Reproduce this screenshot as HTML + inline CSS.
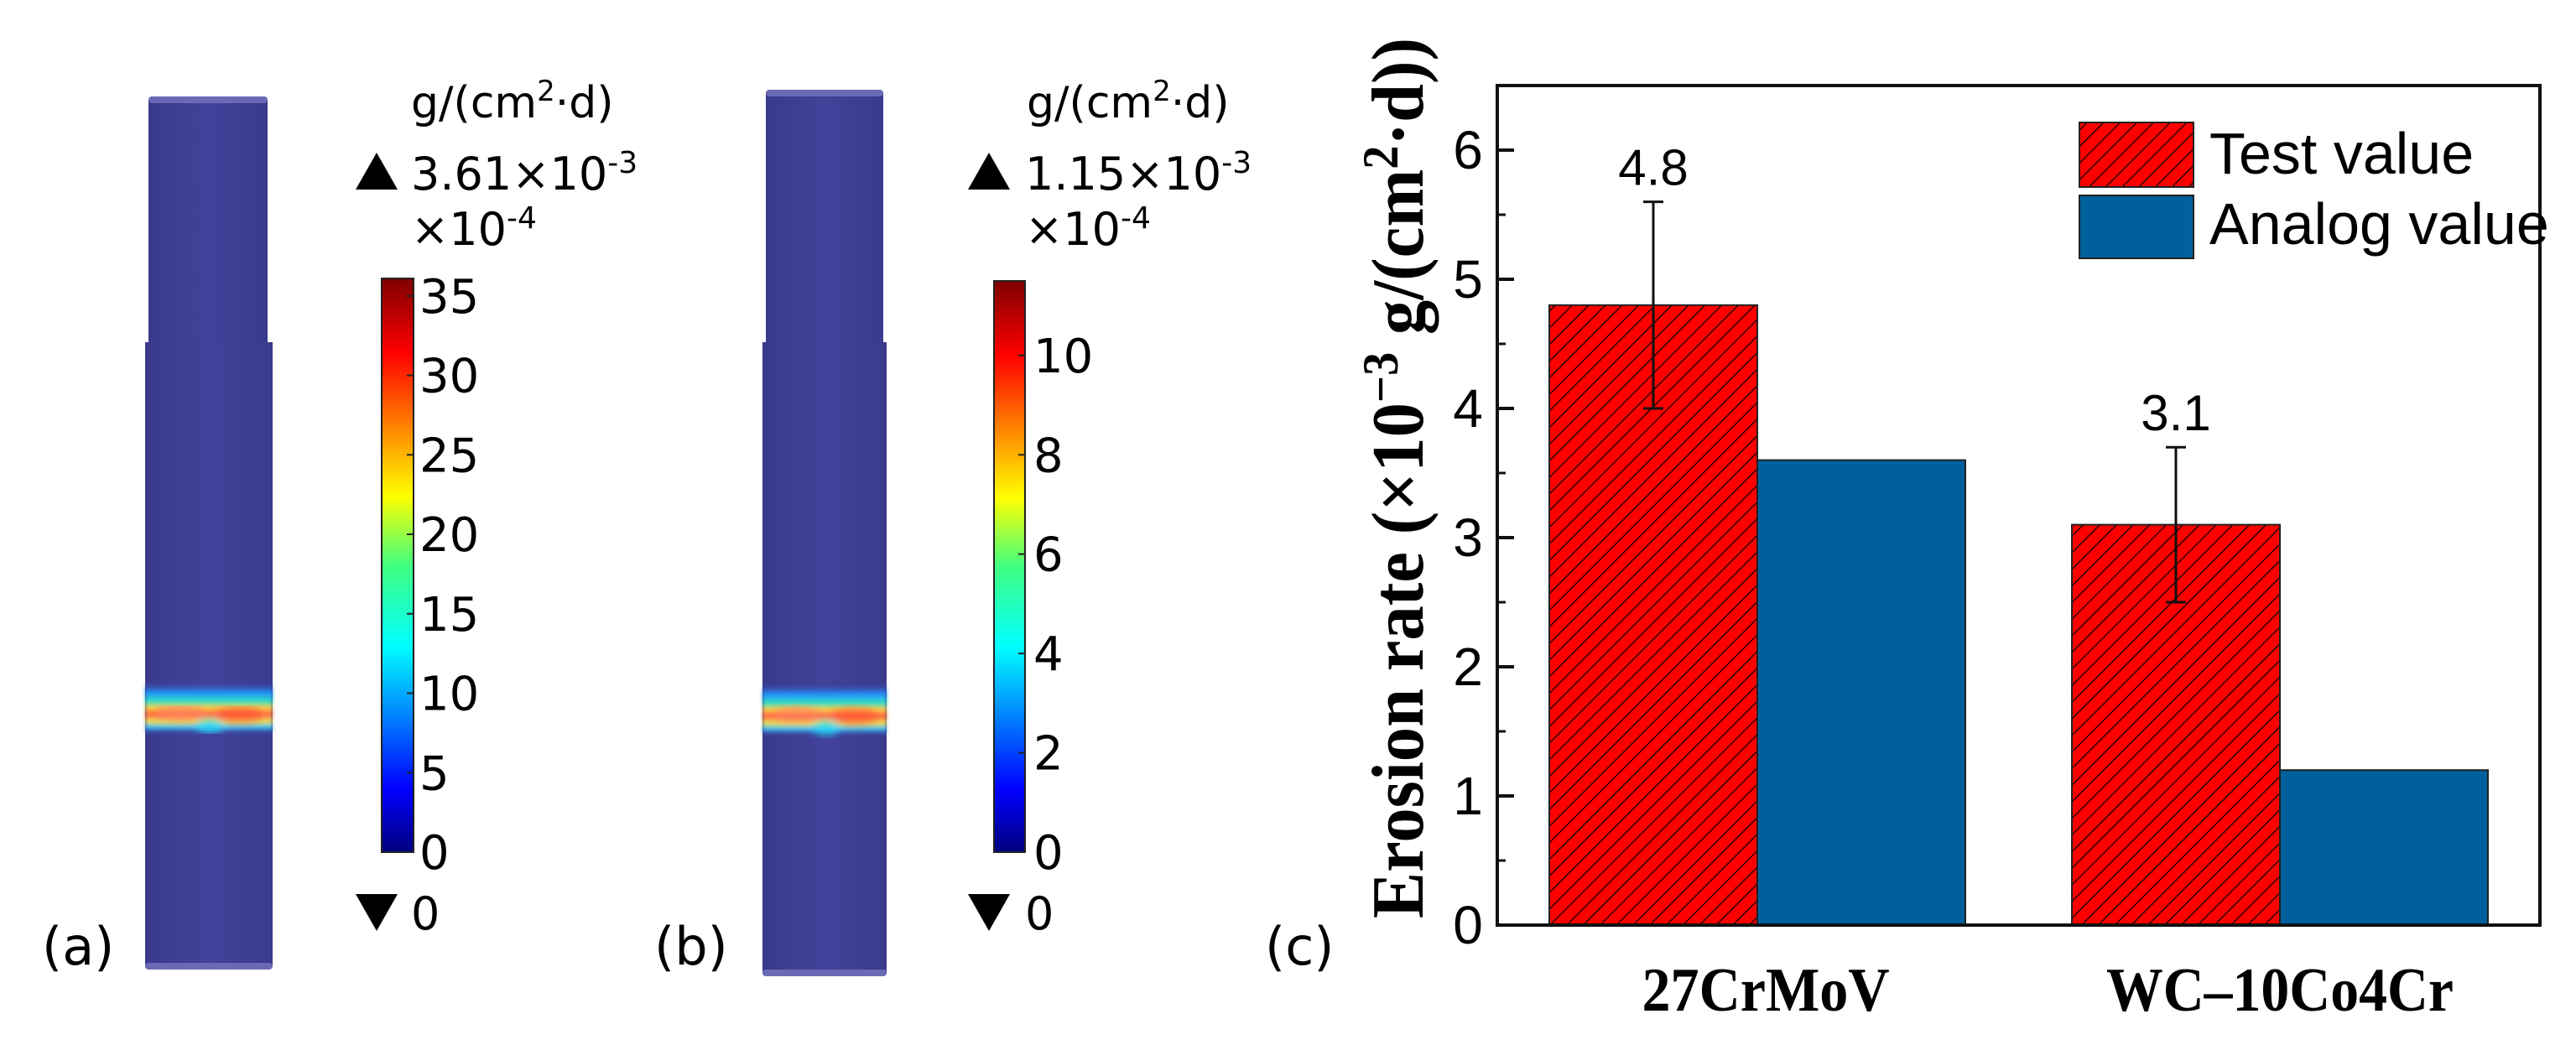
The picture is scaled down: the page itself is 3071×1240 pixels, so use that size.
<!DOCTYPE html>
<html><head><meta charset="utf-8"><style>
html,body{margin:0;padding:0;background:#fff;}
svg{display:block;}
</style></head><body>
<svg id="fig" width="3071" height="1240" viewBox="0 0 3071 1240" xmlns="http://www.w3.org/2000/svg">
<defs>
<linearGradient id="jet" x1="0" y1="1" x2="0" y2="0">
<stop offset="0" stop-color="#00007f"/><stop offset="0.11" stop-color="#0000ff"/><stop offset="0.36" stop-color="#00ffff"/><stop offset="0.5" stop-color="#40ff80"/><stop offset="0.62" stop-color="#ffff00"/><stop offset="0.87" stop-color="#ff0000"/><stop offset="1" stop-color="#7f0000"/>
</linearGradient>
<linearGradient id="cyl" x1="0" y1="0" x2="1" y2="0">
<stop offset="0" stop-color="#3a3a8c"/><stop offset="0.5" stop-color="#42429a"/><stop offset="1" stop-color="#3a3a8e"/>
</linearGradient>
<linearGradient id="band" x1="0" y1="0" x2="0" y2="1">
<stop offset="0" stop-color="#42429a" stop-opacity="0"/><stop offset="0.2" stop-color="#2090ff"/><stop offset="0.38" stop-color="#30e0c0"/><stop offset="0.5" stop-color="#ffd040"/><stop offset="0.62" stop-color="#ff6040"/><stop offset="0.76" stop-color="#f0e050"/><stop offset="0.88" stop-color="#30c0ff"/><stop offset="1" stop-color="#42429a" stop-opacity="0"/>
</linearGradient>
<filter id="blur"><feGaussianBlur stdDeviation="2"/></filter>
<filter id="blur2"><feGaussianBlur stdDeviation="5"/></filter>
<pattern id="hatch" width="14" height="14" patternUnits="userSpaceOnUse" patternTransform="rotate(45)">
<rect width="14" height="14" fill="#ff0000"/><line x1="0" y1="0" x2="0" y2="14" stroke="#000" stroke-width="2.5"/>
</pattern>
</defs>

<!-- panel a -->
<g>
<rect x="177" y="119" width="142" height="292" fill="url(#cyl)"/>
<rect x="173" y="408" width="152" height="745" fill="url(#cyl)"/>
<rect x="177" y="115" width="142" height="8" rx="4" fill="#6a6ab4"/>
<rect x="173" y="1148" width="152" height="8" rx="4" fill="#6a6ab4"/>
<rect x="173" y="813" width="152" height="62" fill="url(#band)" filter="url(#blur)"/>
<g filter="url(#blur2)" clip-path="inset(0)"><ellipse cx="215" cy="850" rx="30" ry="9" fill="#ff8060" opacity="0.7"/><ellipse cx="285" cy="852" rx="28" ry="9" fill="#ff5030" opacity="0.7"/><ellipse cx="250" cy="866" rx="16" ry="9" fill="#20e0ff" opacity="0.7"/></g>
<rect x="455" y="332" width="38" height="684" fill="url(#jet)" stroke="#222" stroke-width="2"/>
<g id="ticksA" font-family="DejaVu Sans, sans-serif" font-size="56" fill="#000"></g>
<text x="490" y="140" font-family="DejaVu Sans, sans-serif" font-size="52">g/(cm<tspan dy="-20" font-size="34">2</tspan><tspan dy="20">·d)</tspan></text>
<polygon points="424,226 449,182 474,226" fill="#000"/>
<text x="490" y="226" font-family="DejaVu Sans, sans-serif" font-size="54">3.61×10<tspan dy="-20" font-size="36">-3</tspan></text>
<text x="490" y="292" font-family="DejaVu Sans, sans-serif" font-size="54">×10<tspan dy="-20" font-size="36">-4</tspan></text>
<polygon points="424,1066 474,1066 449,1110" fill="#000"/>
<text x="490" y="1108" font-family="DejaVu Sans, sans-serif" font-size="54">0</text>
<text x="50" y="1150" font-family="DejaVu Sans, sans-serif" font-size="62">(a)</text>
</g>

<!-- panel b -->
<g>
<rect x="913" y="111" width="140" height="300" fill="url(#cyl)"/>
<rect x="909" y="408" width="148" height="753" fill="url(#cyl)"/>
<rect x="913" y="107" width="140" height="8" rx="4" fill="#6a6ab4"/>
<rect x="909" y="1156" width="148" height="8" rx="4" fill="#6a6ab4"/>
<rect x="909" y="815" width="148" height="62" fill="url(#band)" filter="url(#blur)"/>
<g filter="url(#blur2)"><ellipse cx="950" cy="852" rx="28" ry="9" fill="#ff8060" opacity="0.7"/><ellipse cx="1018" cy="854" rx="28" ry="9" fill="#ff5030" opacity="0.7"/><ellipse cx="985" cy="868" rx="16" ry="9" fill="#20e0ff" opacity="0.7"/></g>
<rect x="1185" y="335" width="37" height="681" fill="url(#jet)" stroke="#222" stroke-width="2"/>
<g id="ticksB" font-family="DejaVu Sans, sans-serif" font-size="56" fill="#000"></g>
<text x="1224" y="140" font-family="DejaVu Sans, sans-serif" font-size="52">g/(cm<tspan dy="-20" font-size="34">2</tspan><tspan dy="20">·d)</tspan></text>
<polygon points="1154,226 1179,182 1204,226" fill="#000"/>
<text x="1222" y="226" font-family="DejaVu Sans, sans-serif" font-size="54">1.15×10<tspan dy="-20" font-size="36">-3</tspan></text>
<text x="1222" y="292" font-family="DejaVu Sans, sans-serif" font-size="54">×10<tspan dy="-20" font-size="36">-4</tspan></text>
<polygon points="1154,1066 1204,1066 1179,1110" fill="#000"/>
<text x="1222" y="1108" font-family="DejaVu Sans, sans-serif" font-size="54">0</text>
<text x="780" y="1150" font-family="DejaVu Sans, sans-serif" font-size="62">(b)</text>
</g>

<!-- panel c -->
<g id="chart">
<text x="1508" y="1150" font-family="DejaVu Sans, sans-serif" font-size="62">(c)</text>
<text transform="translate(1696,570) rotate(-90)" text-anchor="middle" font-family="Liberation Serif, serif" font-weight="bold" font-size="88" textLength="1050" lengthAdjust="spacingAndGlyphs">Erosion rate (×10<tspan dy="-30" font-size="60">−3</tspan><tspan dy="30"> g/(cm</tspan><tspan dy="-30" font-size="60">2</tspan><tspan dy="30">·d))</tspan></text>
<g id="bars"></g>
<g id="axes"></g>
<g>
<rect x="2479" y="146" width="136" height="77" fill="url(#hatch)" stroke="#222" stroke-width="2"/>
<rect x="2479" y="233" width="136" height="75" fill="#00609e" stroke="#222" stroke-width="2"/>
<text x="2634" y="207" font-family="Liberation Sans, sans-serif" font-size="70">Test value</text>
<text x="2634" y="291" font-family="Liberation Sans, sans-serif" font-size="70">Analog value</text>
</g>
</g>
</svg>
<script>
const categories = ["27CrMoV", "WC\u201310Co4Cr"];
const testValues = [4.8, 3.1];
const analogValues = [3.6, 1.2];
const errLow = [4.0, 2.5];
const errHigh = [5.6, 3.7];
const valueLabels = ["4.8", "3.1"];
const yTicks = [0, 1, 2, 3, 4, 5, 6];
const cbTicksA = [0, 5, 10, 15, 20, 25, 30, 35];
const cbTicksB = [0, 2, 4, 6, 8, 10];

const NS = "http://www.w3.org/2000/svg";
function mk(tag, attrs, parent) { const e = document.createElementNS(NS, tag); for (const k in attrs) e.setAttribute(k, attrs[k]); parent.appendChild(e); return e; }

function cbTicks(gid, ticks, maxV, x0, x1, yBot, yTop, lx) {
  const g = document.getElementById(gid);
  const sy = v => yBot - v / maxV * (yBot - yTop);
  ticks.forEach(t => {
    const l = mk("line", {x1: x1 - 8, x2: x1, y1: sy(t), y2: sy(t), stroke: "#222", "stroke-width": 2}, g);
    
    
    const tx = mk("text", {x: lx, y: sy(t) + 20}, g);
    tx.textContent = t;
    
    
  });
}
cbTicks("ticksA", cbTicksA, 36.1, 455, 493, 1016, 332, 500);
cbTicks("ticksB", cbTicksB, 11.5, 1185, 1222, 1016, 335, 1232);

const L = 1785, R = 3028, T = 102, B = 1103, yMax = 6.5;
const y = v => B - v / yMax * (B - T);
const groupCenters = [2095, 2718];
const barW = 248;
const barsG = document.getElementById("bars");
const axG = document.getElementById("axes");
categories.forEach((c, i) => {
  const cx = groupCenters[i];
  const r = mk("rect", {x: cx - barW, y: y(testValues[i]), width: barW, height: B - y(testValues[i]), fill: "url(#hatch)", stroke: "#222", "stroke-width": 2}, barsG);
  
  
  const b = mk("rect", {x: cx, y: y(analogValues[i]), width: barW, height: B - y(analogValues[i]), fill: "#00609e", stroke: "#222", "stroke-width": 2}, barsG);
  
  
  const ex = cx - barW / 2;
  const e = mk("path", {d: `M${ex},${y(errLow[i])}V${y(errHigh[i])}M${ex-12},${y(errHigh[i])}H${ex+12}M${ex-12},${y(errLow[i])}H${ex+12}`, stroke: "#111", "stroke-width": 3, fill: "none"}, barsG);
  
  
  const vl = mk("text", {x: ex, y: y(errHigh[i]) - 20, "text-anchor": "middle", "font-family": "Liberation Sans, sans-serif", "font-size": 60}, barsG);
  vl.textContent = valueLabels[i];
  
  
  const xl = mk("text", {x: cx + (i ? 0 : 10), y: 1205, "text-anchor": "middle", "font-family": "Liberation Serif, serif", "font-weight": "bold", "font-size": 74, textLength: i ? 414 : 295, lengthAdjust: "spacingAndGlyphs"}, axG);
  xl.textContent = c;
  
  
});
const frame = mk("rect", {x: L, y: T, width: R - L, height: B - T, fill: "none", stroke: "#111", "stroke-width": 4}, axG);


yTicks.forEach(t => {
  const l = mk("line", {x1: L, x2: L + 20, y1: y(t), y2: y(t), stroke: "#111", "stroke-width": 4}, axG);
  
  
  if (t < 6) {
    const m = mk("line", {x1: L, x2: L + 10, y1: y(t + 0.5), y2: y(t + 0.5), stroke: "#111", "stroke-width": 3}, axG);
    
    
  }
  const tx = mk("text", {x: L - 35, y: y(t) + 22, "text-anchor": "middle", "font-family": "Liberation Sans, sans-serif", "font-size": 64}, axG);
  tx.textContent = t;
  
  
});
</script>
</body></html>
